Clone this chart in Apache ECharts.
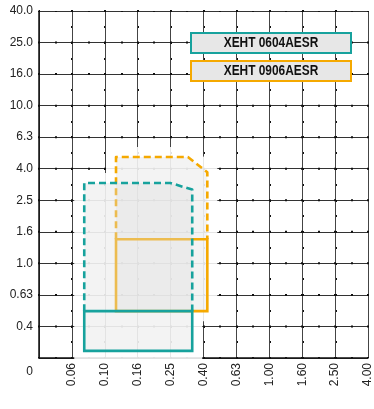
<!DOCTYPE html>
<html>
<head>
<meta charset="utf-8">
<script src="https://cdn.jsdelivr.net/npm/echarts@6/dist/echarts.min.js"></script>
<style>html,body{margin:0;padding:0;background:#fff}#c{width:374px;height:409px}</style>
</head>
<body>
<div id="c"></div>
<script>
// Tick labels (equally spaced, geometric series)
const originLabel = '0';
const xTickLabels = ['0.06', '0.10', '0.16', '0.25', '0.40', '0.63', '1.00', '1.60', '2.50', '4.00'];
const yTickLabels = ['0.4', '0.63', '1.0', '1.6', '2.5', '4.0', '6.3', '10.0', '16.0', '25.0', '40.0'];

// Series names
const seriesNames = ['XEHT 0604AESR', 'XEHT 0906AESR'];

// XEHT 0604AESR regions [x, y]
const teal0604Solid  = [[0.075, 0.28], [0.075, 0.5], [0.34, 0.5], [0.34, 0.28]];
const teal0604Dashed = [[0.075, 0.5], [0.075, 3.25], [0.25, 3.25], [0.34, 2.95], [0.34, 0.5]];
// XEHT 0906AESR regions [x, y]
const orange0906Solid  = [[0.117, 0.5], [0.117, 1.43], [0.42, 1.43], [0.42, 0.5]];
const orange0906Dashed = [[0.117, 1.43], [0.117, 4.75], [0.32, 4.75], [0.42, 3.8], [0.42, 1.43]];

const TEAL = '#17a29d';
const ORANGE = '#f5a900';
const FILL = 'rgba(222,222,222,0.36)';
const FONT = '"Liberation Sans", sans-serif';

// geometric scale -> axis index position
const xPos = v => 7 + 5 * Math.log10(v);
const yPos = v => 1 + 5 * Math.log10(v / 0.4);

function toPx(api, pts) { return pts.map(p => api.coord([xPos(p[0]), yPos(p[1])])); }
function union(solid, dashed) { return [solid[0]].concat(dashed.slice(1, -1), [solid[3]]); }

function offsetPoly(pts, d) {
  let a = 0;
  for (let i = 0; i < pts.length; i++) { const p = pts[i], q = pts[(i + 1) % pts.length]; a += p[0] * q[1] - q[0] * p[1]; }
  const s = a > 0 ? 1 : -1;
  const n = pts.length, normals = [];
  for (let i = 0; i < n; i++) {
    const p = pts[i], q = pts[(i + 1) % n];
    let dx = q[0] - p[0], dy = q[1] - p[1]; const L = Math.hypot(dx, dy) || 1;
    normals.push([s * dy / L, -s * dx / L]);
  }
  return pts.map((p, i) => {
    const n1 = normals[(i - 1 + n) % n], n2 = normals[i];
    const dot = n1[0] * n2[0] + n1[1] * n2[1];
    const k = d / (1 + dot);
    return [p[0] + k * (n1[0] + n2[0]), p[1] + k * (n1[1] + n2[1])];
  });
}
function pathOf(pts) { return 'M' + pts.map(p => p[0].toFixed(2) + ' ' + p[1].toFixed(2)).join(' L') + ' Z'; }

function haloRender(params, api) {
  const a = offsetPoly(toPx(api, union(teal0604Solid, teal0604Dashed)), 10);
  const b = offsetPoly(toPx(api, union(orange0906Solid, orange0906Dashed)), 10);
  return { type: 'path', shape: { pathData: pathOf(a) + ' ' + pathOf(b) }, style: { fill: 'rgba(255,255,255,0.87)' } };
}

function shapeRender(solid, dashed, color) {
  return function (params, api) {
    const s = toPx(api, solid), d = toPx(api, dashed);
    return { type: 'group', children: [
      { type: 'polygon', shape: { points: d }, style: { fill: FILL } },
      { type: 'polygon', shape: { points: s }, style: { fill: FILL } },
      { type: 'polyline', shape: { points: d }, style: { fill: null, stroke: color, lineWidth: 2.6, lineDash: [7, 4], lineJoin: 'round' } },
      { type: 'polygon', shape: { points: s }, style: { fill: null, stroke: color, lineWidth: 2.6 } }
    ] };
  };
}

const chart = echarts.init(document.getElementById('c'), null, { renderer: 'canvas' });
const gridH = 347;
const hidden = { axisLine: { show: false }, axisTick: { show: false }, axisLabel: { show: false } };
chart.setOption({
  animation: false,
  backgroundColor: '#fff',
  grid: { left: 39, right: 5, top: 11, bottom: 51, containLabel: false },
  xAxis: [{
    type: 'value', min: 0, max: 10, interval: 1,
    axisLine: { show: true, onZero: false, lineStyle: { color: '#111', width: 1.5 } },
    axisTick: { show: false },
    axisLabel: { rotate: 90, margin: 5, fontFamily: FONT, fontSize: 12, color: '#222',
      formatter: v => v === 0 ? '' : xTickLabels[Math.round(v) - 1] },
    splitLine: { show: true, lineStyle: { color: '#444', width: 1, type: 'solid' } }
  }, Object.assign({
    type: 'value', min: 0, max: 20, interval: 1, position: 'top',
    splitLine: { show: true, lineStyle: { color: '#111', width: 2, type: [2, gridH / 11 - 2], dashOffset: 1 } }
  }, hidden)],
  yAxis: [{
    type: 'value', min: 0, max: 11, interval: 1,
    axisLine: { show: true, lineStyle: { color: '#111', width: 1.5 } },
    axisTick: { show: false },
    axisLabel: { margin: 6, fontFamily: FONT, fontSize: 12, color: '#222',
      formatter: v => v === 0 ? '{z|' + originLabel + '}' : yTickLabels[Math.round(v) - 1],
      rich: { z: { padding: [28, 0, 0, 0], fontFamily: FONT, fontSize: 12, color: '#222' } } },
    splitLine: { show: true, lineStyle: { color: '#333', width: 1, type: 'solid' } }
  }, Object.assign({
    type: 'value', min: 0, max: 22, interval: 1, position: 'right',
    splitLine: { show: true, lineStyle: { color: '#111', width: 2, type: [2, 31], dashOffset: 1 } }
  }, hidden)],
  series: [
    { type: 'custom', name: 'halo', z: 1, silent: true, data: [0], renderItem: haloRender },
    { type: 'custom', name: seriesNames[1], z: 2, silent: true, data: [0], renderItem: shapeRender(orange0906Solid, orange0906Dashed, ORANGE) },
    { type: 'custom', name: seriesNames[0], z: 3, silent: true, data: [0], renderItem: shapeRender(teal0604Solid, teal0604Dashed, TEAL) }
  ],
  graphic: [
    { type: 'rect', z: 10, shape: { x: 191, y: 33, width: 160, height: 20 }, style: { fill: '#e7e7e7', stroke: TEAL, lineWidth: 2 } },
    { type: 'text', z: 11, x: 271, y: 43.5, scaleX: 0.85, style: { text: seriesNames[0], font: 'bold 14px ' + FONT, fill: '#111', align: 'center', verticalAlign: 'middle' } },
    { type: 'rect', z: 10, shape: { x: 191, y: 61, width: 160, height: 20 }, style: { fill: '#e7e7e7', stroke: ORANGE, lineWidth: 2 } },
    { type: 'text', z: 11, x: 271, y: 71.5, scaleX: 0.85, style: { text: seriesNames[1], font: 'bold 14px ' + FONT, fill: '#111', align: 'center', verticalAlign: 'middle' } }
  ]
});
</script>
</body>
</html>
